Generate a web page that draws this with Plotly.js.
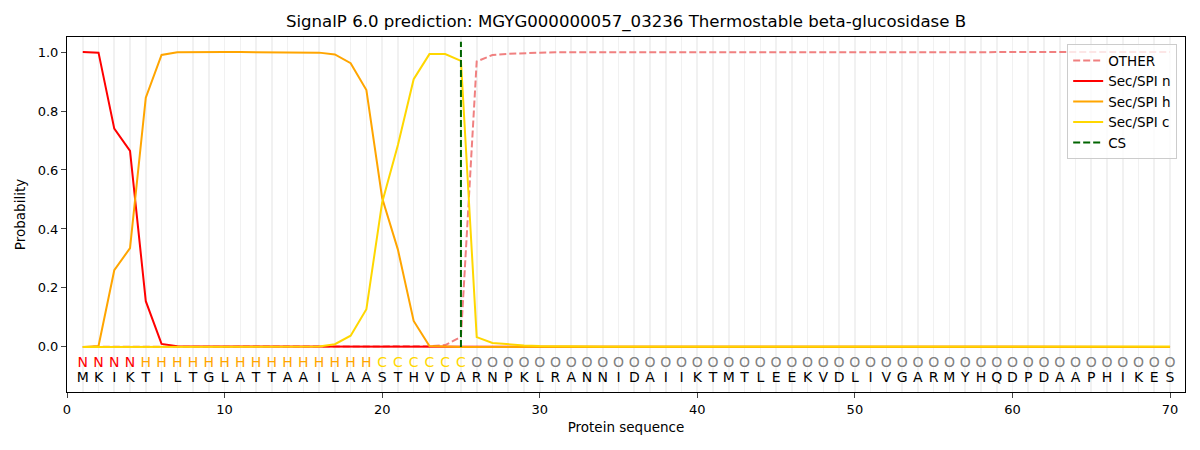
<!DOCTYPE html>
<html>
<head>
<meta charset="utf-8">
<script src="https://cdn.plot.ly/plotly-3.0.1.min.js"></script>
<style>
  html, body { margin: 0; padding: 0; background: #fff; }
  #chart { width: 1200px; height: 450px; }
</style>
</head>
<body>
<div id="chart"></div>
<script>
// amino acid sequence and per-residue predicted region
let sequence = 'MKIKTILTGLATTAAILAASTHVDARNPKLRANNIDAIIKTMTLEEKVDLIVGARMYHQDPDAAPHIKES'.split('');
let regions = 'NNNNHHHHHHHHHHHHHHHCCCCCCOOOOOOOOOOOOOOOOOOOOOOOOOOOOOOOOOOOOOOOOOOOOO'.split('');
let csPos = 25;

let probOther = [
    0, 0, 0, 0, 0, 0, 0, 0, 0, 0,
    0, 0, 0, 0, 0, 0, 0, 0, 0, 0,
    0, 0, 0.002, 0.006, 0.034, 0.968, 0.99, 0.994, 0.997, 0.998,
    0.999, 0.999, 1, 1, 1, 1, 1, 1, 1, 1,
    1, 1, 1, 1, 1, 1, 1, 1, 1, 1,
    1, 1, 1, 1, 1, 1, 1, 1, 1, 1,
    1, 1, 1, 1, 1, 1, 1, 1, 1, 1
];
let probN = [
    1.0, 0.998, 0.74, 0.665, 0.155, 0.01, 0.002, 0.001, 0.001, 0.001,
    0.001, 0.001, 0.001, 0.001, 0.001, 0.001, 0.001, 0.001, 0.001, 0.001,
    0.001, 0.001, 0.001, 0.001, 0.001, 0, 0, 0, 0, 0,
    0, 0, 0, 0, 0, 0, 0, 0, 0, 0,
    0, 0, 0, 0, 0, 0, 0, 0, 0, 0,
    0, 0, 0, 0, 0, 0, 0, 0, 0, 0,
    0, 0, 0, 0, 0, 0, 0, 0, 0, 0
];
let probH = [
    0, 0.003, 0.26, 0.335, 0.845, 0.99, 0.999, 1, 1, 1,
    1, 1, 1, 1, 0.999, 0.998, 0.992, 0.962, 0.871, 0.505,
    0.33, 0.088, 0.003, 0.001, 0, 0, 0, 0, 0, 0,
    0, 0, 0, 0, 0, 0, 0, 0, 0, 0,
    0, 0, 0, 0, 0, 0, 0, 0, 0, 0,
    0, 0, 0, 0, 0, 0, 0, 0, 0, 0,
    0, 0, 0, 0, 0, 0, 0, 0, 0, 0
];
let probC = [
    0, 0, 0, 0, 0, 0, 0, 0, 0, 0,
    0, 0, 0, 0, 0, 0.001, 0.009, 0.038, 0.128, 0.49,
    0.685, 0.908, 0.993, 0.993, 0.97, 0.033, 0.013, 0.008, 0.005, 0.003,
    0.002, 0.001, 0.001, 0.001, 0.001, 0.001, 0.001, 0.001, 0.001, 0.001,
    0.001, 0.001, 0.001, 0.001, 0.001, 0.001, 0.001, 0.001, 0.001, 0.001,
    0.001, 0.001, 0.001, 0.001, 0.001, 0.001, 0.001, 0.001, 0.001, 0.001,
    0.001, 0.001, 0.001, 0.001, 0.001, 0.001, 0.001, 0.001, 0.001, 0.001
];

let regionColors = { N: 'red', H: 'orange', C: 'gold', O: 'gray' };

let positions = sequence.map((s, i) => i + 1);

let makeLine = function (name, y, color, dash) {
    return {
        x: positions,
        y: y,
        name: name,
        type: 'scatter',
        mode: 'lines',
        line: { color: color, width: 2, dash: dash || 'solid' },
    };
}

let traces = [
    makeLine('OTHER', probOther, '#F08080', '7px,3px'),
    makeLine('Sec/SPI n', probN, 'red'),
    makeLine('Sec/SPI h', probH, 'orange'),
    makeLine('Sec/SPI c', probC, 'gold'),
    {
        x: [csPos, csPos],
        y: [0, 1.035],
        name: 'CS',
        type: 'scatter',
        mode: 'lines',
        line: { color: 'darkgreen', width: 2, dash: '7px,3px' },
    },
    // region labels row
    {
        x: positions,
        y: positions.map(() => -0.057),
        text: regions,
        type: 'scatter',
        mode: 'text',
        showlegend: false,
        hoverinfo: 'skip',
        textfont: { family: 'DejaVu Sans', size: 14, color: regions.map(r => regionColors[r]) },
    },
    // sequence letters row
    {
        x: positions,
        y: positions.map(() => -0.108),
        text: sequence,
        type: 'scatter',
        mode: 'text',
        showlegend: false,
        hoverinfo: 'skip',
        textfont: { family: 'DejaVu Sans', size: 14, color: 'black' },
    },
];

let gridColor = 'rgba(0,0,0,0.055)';

let layout = {
    width: 1200,
    height: 450,
    margin: { l: 67, r: 15, t: 37, b: 58 },
    paper_bgcolor: 'white',
    plot_bgcolor: 'white',
    font: { family: 'DejaVu Sans', size: 13, color: 'black' },
    title: {
        text: 'SignalP 6.0 prediction: MGYG000000057_03236 Thermostable beta-glucosidase B',
        font: { size: 16.6 },
        xref: 'paper',
        x: 0.5,
        xanchor: 'center',
        y: 0.953,
        yanchor: 'middle',
    },
    xaxis: {
        range: [0, 70.95],
        tick0: 0,
        dtick: 10,
        ticks: 'outside',
        ticklen: 5,
        showline: true,
        mirror: true,
        linecolor: 'black',
        linewidth: 1,
        showgrid: true,
        gridcolor: gridColor,
        gridwidth: 1.6,
        zeroline: false,
        minor: { tick0: 0, dtick: 1, showgrid: true, gridcolor: gridColor, gridwidth: 1.6, ticks: '' },
        title: { text: 'Protein sequence', font: { size: 13.5 }, standoff: 6 },
    },
    yaxis: {
        range: [-0.153, 1.051],
        tickvals: [0, 0.2, 0.4, 0.6, 0.8, 1.0],
        ticktext: ['0.0', '0.2', '0.4', '0.6', '0.8', '1.0'],
        ticks: 'outside',
        ticklen: 5,
        showline: true,
        mirror: true,
        linecolor: 'black',
        linewidth: 1,
        showgrid: false,
        zeroline: false,
        title: { text: 'Probability', font: { size: 13.5 }, standoff: 8 },
    },
    legend: {
        x: 0.993,
        y: 0.98,
        xanchor: 'right',
        yanchor: 'top',
        bgcolor: 'rgba(255,255,255,0.8)',
        bordercolor: '#cccccc',
        borderwidth: 1,
        font: { size: 13.5 },
        tracegroupgap: 0,
        itemwidth: 30,
    },
    showlegend: true,
};

Plotly.newPlot('chart', traces, layout, { displayModeBar: false, staticPlot: true });
</script>
</body>
</html>
